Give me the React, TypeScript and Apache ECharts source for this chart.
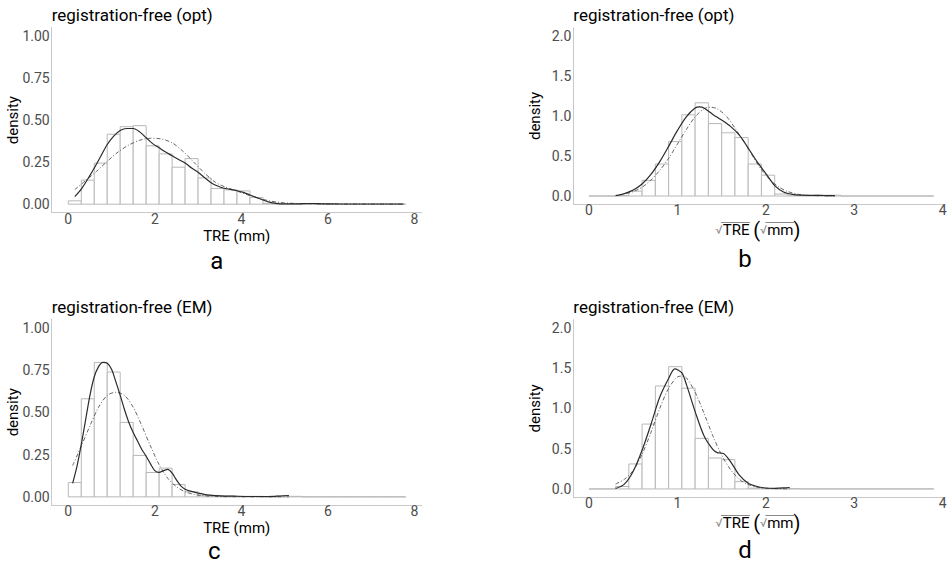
import React, { useEffect, useRef } from "react";
import * as echarts from "echarts";

// ---------- data ----------
const titles = ["registration-free (opt)", "registration-free (opt)", "registration-free (EM)", "registration-free (EM)"];
const panelLetters = ["a", "b", "c", "d"];

// histogram bins (density), bins start at 0
const binWidthTRE = 0.3;
const binWidthSqrt = 0.15;
const histA = [0.02, 0.143, 0.244, 0.416, 0.461, 0.467, 0.347, 0.299, 0.22, 0.271, 0.156, 0.093, 0.085, 0.079, 0.04, 0.005, 0, 0, 0.003, 0, 0, 0, 0, 0, 0, 0];
const histB = [0, 0, 0.005, 0.06, 0.195, 0.4, 0.68, 1.015, 1.165, 0.905, 0.79, 0.73, 0.4, 0.26, 0.025, 0.01, 0.005, 0.01, 0.01, 0, 0, 0, 0, 0, 0, 0];
const histC = [0.085, 0.58, 0.795, 0.738, 0.44, 0.245, 0.144, 0.17, 0.073, 0.03, 0.01, 0.008, 0.005, 0.003, 0.003, 0, 0.005, 0.003, 0, 0, 0, 0, 0, 0, 0, 0];
const histD = [0, 0, 0.03, 0.31, 0.805, 1.277, 1.517, 1.25, 0.628, 0.384, 0.364, 0.09, 0.01, 0.005, 0.005, 0.003, 0, 0, 0, 0, 0, 0, 0, 0, 0, 0];

// kernel density (solid)
const kdeAx = [0.15, 0.3, 0.45, 0.6, 0.75, 0.9, 1.05, 1.2, 1.35, 1.5, 1.65, 1.8, 1.95, 2.1, 2.25, 2.4, 2.55, 2.7, 2.85, 3.0, 3.15, 3.3, 3.45, 3.6, 3.75, 3.9, 4.05, 4.2, 4.35, 4.5, 4.65, 4.8, 5.0, 5.3, 5.6, 5.9, 6.3, 6.8, 7.3, 7.75];
const kdeAy = [0.045, 0.09, 0.15, 0.215, 0.285, 0.355, 0.405, 0.438, 0.45, 0.45, 0.43, 0.395, 0.36, 0.335, 0.31, 0.288, 0.266, 0.245, 0.215, 0.19, 0.158, 0.128, 0.108, 0.095, 0.088, 0.08, 0.07, 0.055, 0.04, 0.025, 0.012, 0.005, 0.002, 0.002, 0.004, 0.002, 0.001, 0.001, 0.001, 0.001];
const kdeBx = [0.3, 0.4, 0.5, 0.6, 0.7, 0.8, 0.9, 1.0, 1.1, 1.2, 1.25, 1.3, 1.4, 1.5, 1.6, 1.7, 1.8, 1.9, 2.0, 2.1, 2.2, 2.3, 2.4, 2.5, 2.6, 2.7, 2.78];
const kdeBy = [0.005, 0.03, 0.075, 0.15, 0.27, 0.43, 0.62, 0.82, 0.99, 1.1, 1.115, 1.1, 1.02, 0.95, 0.87, 0.76, 0.6, 0.43, 0.28, 0.13, 0.05, 0.02, 0.01, 0.008, 0.008, 0.005, 0.004];
const kdeCx = [0.1, 0.2, 0.3, 0.4, 0.5, 0.6, 0.7, 0.8, 0.9, 1.0, 1.1, 1.2, 1.3, 1.4, 1.5, 1.6, 1.7, 1.8, 1.9, 2.0, 2.1, 2.2, 2.3, 2.4, 2.5, 2.6, 2.7, 2.8, 3.0, 3.2, 3.5, 3.8, 4.2, 4.6, 4.9, 5.1];
const kdeCy = [0.08, 0.18, 0.31, 0.455, 0.6, 0.71, 0.77, 0.795, 0.79, 0.755, 0.68, 0.6, 0.515, 0.44, 0.38, 0.33, 0.28, 0.24, 0.195, 0.155, 0.145, 0.155, 0.162, 0.14, 0.1, 0.065, 0.045, 0.035, 0.022, 0.012, 0.006, 0.004, 0.002, 0.002, 0.005, 0.008];
const kdeDx = [0.3, 0.4, 0.5, 0.6, 0.7, 0.8, 0.9, 0.97, 1.05, 1.1, 1.2, 1.3, 1.4, 1.45, 1.52, 1.6, 1.7, 1.8, 1.9, 2.0, 2.1, 2.2, 2.27];
const kdeDy = [0.005, 0.06, 0.22, 0.48, 0.8, 1.14, 1.37, 1.49, 1.44, 1.3, 0.96, 0.66, 0.49, 0.45, 0.44, 0.34, 0.17, 0.07, 0.03, 0.012, 0.008, 0.012, 0.018];

// fitted normal density (dot-dash)
const fitAx = [0.15, 0.4, 0.65, 0.9, 1.15, 1.4, 1.65, 1.9, 2.15, 2.4, 2.65, 2.9, 3.15, 3.4, 3.65, 3.9, 4.15, 4.4, 4.65, 4.9, 5.2, 5.6, 6.2, 7.0, 7.75];
const fitAy = [0.087, 0.14, 0.195, 0.255, 0.31, 0.352, 0.38, 0.392, 0.388, 0.365, 0.315, 0.25, 0.185, 0.13, 0.1, 0.078, 0.055, 0.035, 0.02, 0.01, 0.005, 0.002, 0.001, 0, 0];
const fitBx = [0.42, 0.5, 0.6, 0.7, 0.8, 0.9, 1.0, 1.1, 1.2, 1.3, 1.37, 1.45, 1.55, 1.65, 1.75, 1.85, 1.95, 2.05, 2.15, 2.25, 2.4, 2.55, 2.78];
const fitBy = [0.03, 0.055, 0.11, 0.2, 0.32, 0.47, 0.65, 0.83, 0.99, 1.09, 1.11, 1.09, 1.0, 0.85, 0.68, 0.5, 0.33, 0.2, 0.11, 0.055, 0.015, 0.004, 0.0005];
const fitCx = [0.1, 0.3, 0.5, 0.7, 0.9, 1.1, 1.3, 1.5, 1.7, 1.9, 2.1, 2.3, 2.5, 2.7, 2.9, 3.1, 3.4, 3.8, 4.5, 5.1];
const fitCy = [0.185, 0.3, 0.42, 0.53, 0.6, 0.618, 0.6, 0.53, 0.42, 0.3, 0.19, 0.11, 0.06, 0.03, 0.015, 0.007, 0.002, 0.0005, 0, 0];
const fitDx = [0.3, 0.4, 0.5, 0.6, 0.7, 0.8, 0.9, 1.0, 1.05, 1.1, 1.2, 1.3, 1.4, 1.5, 1.6, 1.7, 1.8, 1.9, 2.0, 2.15, 2.27];
const fitDy = [0.06, 0.12, 0.23, 0.43, 0.7, 1.0, 1.25, 1.39, 1.4, 1.38, 1.2, 0.94, 0.66, 0.42, 0.24, 0.12, 0.055, 0.022, 0.008, 0.002, 0.0005];

const xTicksTRE = [0, 2, 4, 6, 8];
const xTicksSqrt = [0, 1, 2, 3, 4];
const yTicksA = [0, 0.25, 0.5, 0.75, 1.0];
const yTicksB = [0, 0.5, 1.0, 1.5, 2.0];

const FONT = "Roboto";
const S_SIZE = 12;
const T_SIZE = 15;
const P_SIZE = 20;
const NAME_LH = 22;
const SQRT_GAP = 15;

function zip(xs: number[], ys: number[]) {
  return xs.map((x, i) => [x, ys[i]]);
}

function binData(h: number[], w: number) {
  return h.map((v, i) => [i * w, (i + 1) * w, v]);
}

function measure(text: string, size: number) {
  const c = document.createElement("canvas").getContext("2d");
  if (!c) return text.length * size * 0.55;
  c.font = size + "px " + FONT;
  return c.measureText(text).width;
}

export default function App() {
  const ref = useRef<HTMLDivElement>(null);

  useEffect(() => {
    if (!ref.current) return;
    const chart = echarts.init(ref.current, null, { renderer: "svg" });

    const grids = [
      { left: 51.7, top: 27.6, width: 370, height: 185 },
      { left: 573.3, top: 28, width: 369.4, height: 176 },
      { left: 51.7, top: 319.3, width: 370, height: 186 },
      { left: 573.3, top: 319.7, width: 369.4, height: 177.3 },
    ];

    const sqrtName = "{s|√}{t|TRE}{t| }{p|(}{s|√}{t|mm}{p|)}";
    const xCfg = [
      { min: -0.384, max: 8.17, ticks: xTicksTRE, name: "TRE (mm)", gap: 17 },
      { min: -0.178, max: 4.0, ticks: xTicksSqrt, name: sqrtName, gap: SQRT_GAP },
      { min: -0.384, max: 8.17, ticks: xTicksTRE, name: "TRE (mm)", gap: 17 },
      { min: -0.178, max: 4.0, ticks: xTicksSqrt, name: sqrtName, gap: SQRT_GAP },
    ];
    const yCfg = [
      { min: -0.05, max: 1.05, ticks: yTicksA, dec: 2 },
      { min: -0.1, max: 2.1, ticks: yTicksB, dec: 1 },
      { min: -0.05, max: 1.05, ticks: yTicksA, dec: 2 },
      { min: -0.1, max: 2.1, ticks: yTicksB, dec: 1 },
    ];

    const axisLineStyle = { color: "#c9c9c9", width: 1 };

    const xAxis = xCfg.map((c, i) => ({
      type: "value",
      gridIndex: i,
      min: c.min,
      max: c.max,
      axisLine: { show: true, onZero: false, lineStyle: axisLineStyle },
      axisTick: { show: false },
      splitLine: { show: false },
      axisLabel: {
        customValues: c.ticks,
        color: "#4d4d4d",
        fontSize: 14,
        lineHeight: 12,
        fontFamily: FONT,
        margin: 0,
        showMinLabel: true,
        showMaxLabel: true,
      },
      name: c.name,
      nameLocation: "middle",
      nameGap: c.gap,
      nameMoveOverlap: false,
      nameTextStyle: {
        color: "#000",
        fontSize: 15,
        fontFamily: FONT,
        verticalAlign: "top",
        lineHeight: i % 2 === 1 ? NAME_LH : 12,
        rich: {
          s: { fontSize: S_SIZE, color: "#8a8a8a", fontFamily: FONT, lineHeight: NAME_LH },
          t: { fontSize: T_SIZE, color: "#000", fontFamily: FONT, lineHeight: NAME_LH },
          p: { fontSize: P_SIZE, color: "#000", fontFamily: FONT, lineHeight: NAME_LH },
        },
      },
    }));

    const yAxis = yCfg.map((c, i) => ({
      type: "value",
      gridIndex: i,
      min: c.min,
      max: c.max,
      axisLine: { show: true, onZero: false, lineStyle: axisLineStyle },
      axisTick: { show: false },
      splitLine: { show: false },
      axisLabel: {
        customValues: c.ticks,
        color: "#4d4d4d",
        fontSize: 14,
        fontFamily: FONT,
        margin: 2,
        formatter: (v: number) => v.toFixed(c.dec),
      },
      name: "density",
      nameLocation: "middle",
      nameGap: 31,
      nameMoveOverlap: false,
      nameTextStyle: { color: "#000", fontSize: 15, fontFamily: FONT },
    }));

    const hists = [
      binData(histA, binWidthTRE),
      binData(histB, binWidthSqrt),
      binData(histC, binWidthTRE),
      binData(histD, binWidthSqrt),
    ];
    const kdes = [zip(kdeAx, kdeAy), zip(kdeBx, kdeBy), zip(kdeCx, kdeCy), zip(kdeDx, kdeDy)];
    const fits = [zip(fitAx, fitAy), zip(fitBx, fitBy), zip(fitCx, fitCy), zip(fitDx, fitDy)];

    const series: any[] = [];
    for (let i = 0; i < 4; i++) {
      series.push({
        type: "custom",
        xAxisIndex: i,
        yAxisIndex: i,
        data: hists[i],
        encode: { x: [0, 1], y: 2 },
        silent: true,
        z: 1,
        renderItem: (params: any, api: any) => {
          const x0 = api.value(0);
          const x1 = api.value(1);
          const h = api.value(2);
          const p0 = api.coord([x0, h]);
          const p1 = api.coord([x1, 0]);
          return {
            type: "rect",
            shape: { x: p0[0], y: p0[1], width: p1[0] - p0[0], height: p1[1] - p0[1] },
            style: { fill: "#ffffff", stroke: "#b8b8b8", lineWidth: 1 },
          };
        },
      });
      series.push({
        type: "line",
        xAxisIndex: i,
        yAxisIndex: i,
        data: fits[i],
        smooth: 0.3,
        showSymbol: false,
        silent: true,
        z: 3,
        lineStyle: { color: "#555", width: 0.9, type: [4, 2, 1, 2] },
      });
      series.push({
        type: "line",
        xAxisIndex: i,
        yAxisIndex: i,
        data: kdes[i],
        smooth: 0.3,
        showSymbol: false,
        silent: true,
        z: 4,
        lineStyle: { color: "#2b2b2b", width: 1.2 },
      });
    }

    const titleLeft = [51.7, 573.3, 51.7, 573.3];
    const titleTop = [6, 6, 298, 298];
    const title = titles.map((t, i) => ({
      text: t,
      left: titleLeft[i],
      top: titleTop[i],
      padding: 0,
      textStyle: { fontSize: 17, fontWeight: "normal", color: "#000", fontFamily: FONT },
    }));

    const letterPos = [
      [216.7, 261],
      [745, 259],
      [214.3, 551],
      [745, 550],
    ];
    const graphic: any[] = panelLetters.map((l, i) => ({
      type: "text",
      x: letterPos[i][0],
      y: letterPos[i][1],
      style: {
        text: l,
        fontSize: 24,
        lineHeight: 20,
        fontFamily: FONT,
        fill: "#000",
        align: "center",
        verticalAlign: "middle",
      },
    }));

    // overbars of the square-root signs in the x-axis names of panels b and d
    const wS = measure("√", S_SIZE);
    const wTRE = measure("TRE", T_SIZE);
    const wSp = measure(" ", T_SIZE);
    const wLp = measure("(", P_SIZE);
    const wMm = measure("mm", T_SIZE);
    const wRp = measure(")", P_SIZE);
    const total = wS + wTRE + wSp + wLp + wS + wMm + wRp;
    [1, 3].forEach((gi) => {
      const g = grids[gi];
      const cx = g.left + g.width / 2;
      const x0 = cx - total / 2;
      const yBar = g.top + g.height + SQRT_GAP + NAME_LH / 2 - 7.5;
      const a1 = x0 + wS * 0.75;
      const a2 = x0 + wS + wTRE + 0.5;
      const b1 = x0 + wS + wTRE + wSp + wLp + wS * 0.75;
      const b2 = x0 + wS + wTRE + wSp + wLp + wS + wMm + 0.5;
      graphic.push({
        type: "line",
        silent: true,
        shape: { x1: a1, y1: yBar, x2: a2, y2: yBar },
        style: { stroke: "#8a8a8a", lineWidth: 1 },
      });
      graphic.push({
        type: "line",
        silent: true,
        shape: { x1: b1, y1: yBar, x2: b2, y2: yBar },
        style: { stroke: "#8a8a8a", lineWidth: 1 },
      });
    });

    chart.setOption({
      animation: false,
      backgroundColor: "#ffffff",
      title,
      grid: grids,
      xAxis,
      yAxis,
      series,
      graphic,
    });

    return () => chart.dispose();
  }, []);

  return (
    <div
      ref={ref}
      style={{ position: "absolute", left: 0, top: 0, width: 951, height: 566, background: "#fff" }}
    />
  );
}
